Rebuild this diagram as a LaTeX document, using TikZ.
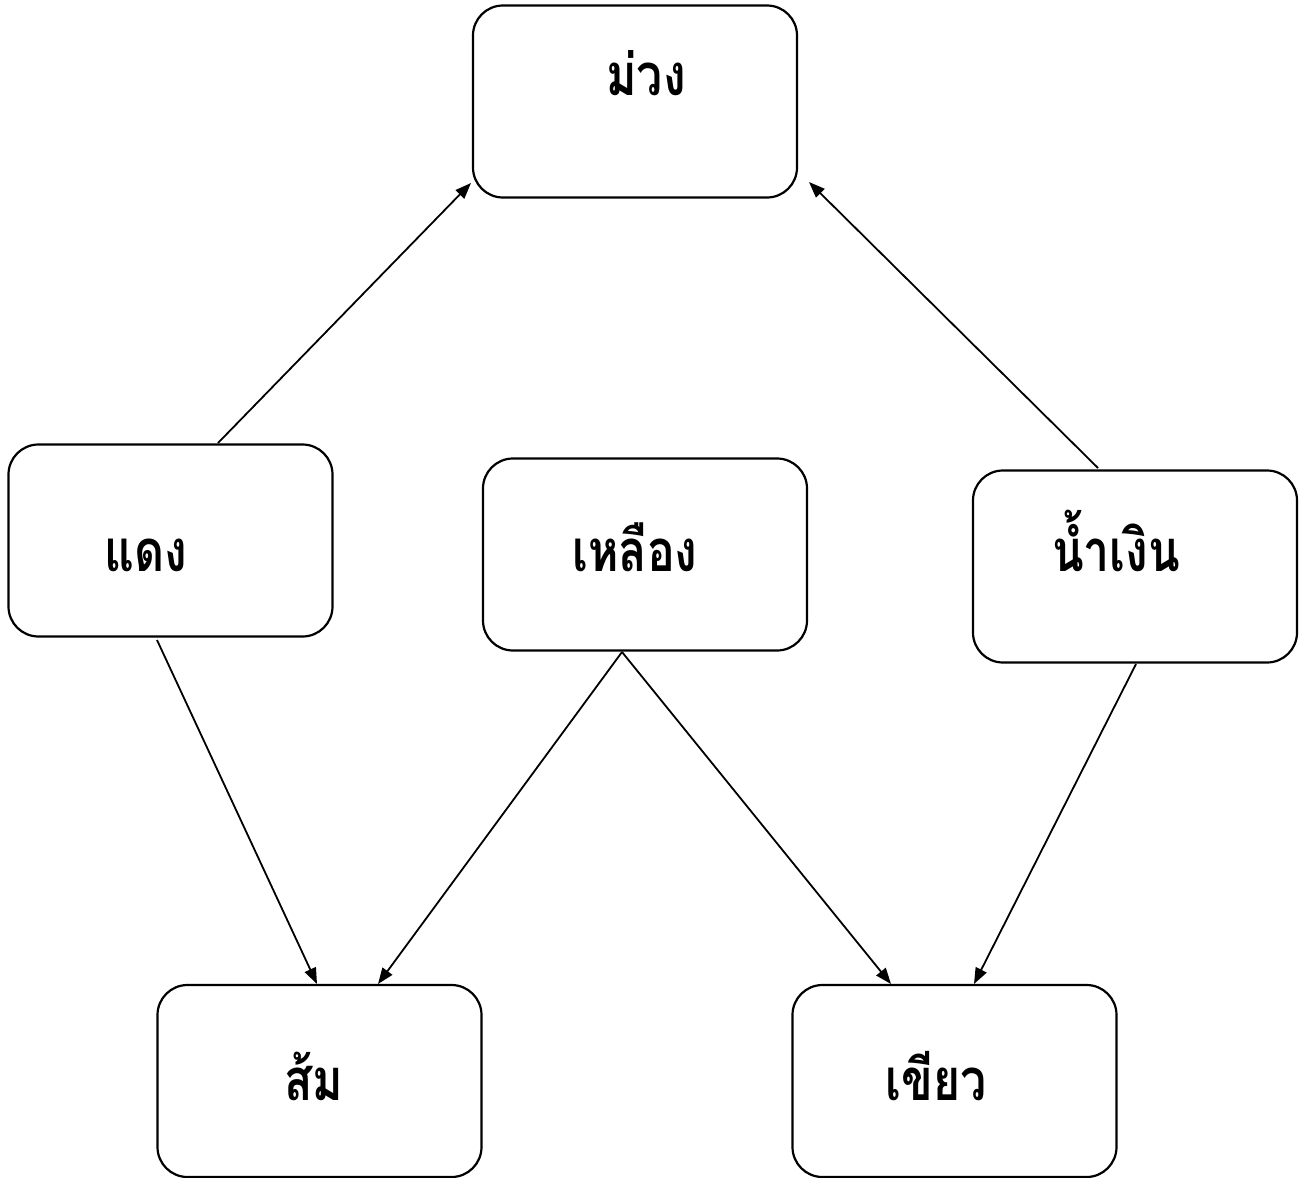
\documentclass[tikz,border=0pt]{standalone}
\usepackage{fontspec}
\usepackage{graphicx}
\newfontfamily\thaifont[Script=Thai]{Loma}
\newcommand{\thlbl}[1]{\scalebox{0.8}[1]{#1}}
\usetikzlibrary{arrows.meta}
\begin{document}
\begin{tikzpicture}[x=1pt,y=-1pt,
  box/.style={draw=black,line width=2.2pt,rounded corners=30pt,minimum width=324pt,minimum height=192pt,inner sep=0pt},
  lbl/.style={font=\thaifont\bfseries\fontsize{58}{60}\selectfont,anchor=base,inner sep=0pt},
  conn/.style={line width=1.8pt,-{Triangle[length=16pt,width=12pt]}}]
\useasboundingbox (0,0) rectangle (1302,1178);
\node[box] (purple) at (635,101.5) {};
\node[box] (red) at (170.5,540.5) {};
\node[box] (yellow) at (645,554.5) {};
\node[box] (blue) at (1135,566.5) {};
\node[box] (orange) at (319.5,1081) {};
\node[box] (green) at (954.5,1081) {};
\node[lbl] (tpurple) at (646,95) {\thlbl{ม่วง}};
\node[lbl] (tred) at (146,571) {\thlbl{แดง}};
\node[lbl] (tyellow) at (635,571) {\thlbl{เหลือง}};
\node[lbl] (tblue) at (1116,571) {\thlbl{น้ำเงิน}};
\node[lbl] (torange) at (314,1100) {\thlbl{ส้ม}};
\node[lbl] (tgreen) at (936,1100) {\thlbl{เขียว}};
\coordinate (r1) at (218,443);
\coordinate (p1) at (471,183);
\coordinate (b1) at (1098,468);
\coordinate (p2) at (809,182);
\coordinate (r2) at (157,640);
\coordinate (o1) at (317,984);
\coordinate (y1) at (622,652);
\coordinate (o2) at (378,984);
\coordinate (g1) at (891,984);
\coordinate (b2) at (1136,664);
\coordinate (g2) at (974,984);
\draw[conn] (r1) -- (p1);
\draw[conn] (b1) -- (p2);
\draw[conn] (r2) -- (o1);
\draw[conn] (y1) -- (o2);
\draw[conn] (y1) -- (g1);
\draw[conn] (b2) -- (g2);
\end{tikzpicture}
\end{document}
